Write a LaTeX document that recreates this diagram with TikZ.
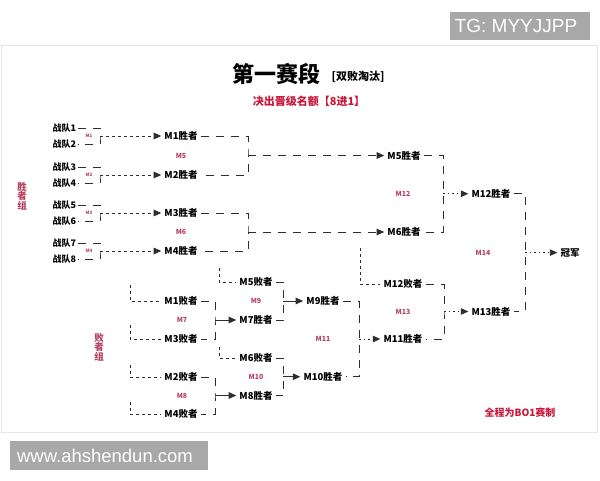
\documentclass[tikz,border=0pt]{standalone}
\usepackage{fontspec}
\setmainfont{Noto Sans CJK SC}
\newfontfamily\wmfont{Liberation Sans}
\usetikzlibrary{arrows.meta}
\definecolor{redA}{HTML}{C8193C}
\definecolor{redB}{HTML}{B5415F}
\definecolor{lnc}{HTML}{2E2E2E}
\definecolor{wmg}{HTML}{A8A8A8}
\begin{document}
\begin{tikzpicture}[x=1pt,y=-1pt,
  mnode/.style={font=\bfseries\fontsize{9.5}{10}\selectfont, inner sep=3pt},
  team/.style={font=\bfseries\fontsize{9}{9}\selectfont, inner sep=1.5pt, anchor=west},
  mlab/.style={text=redB, font=\bfseries\fontsize{7}{8}\selectfont, inner sep=0pt},
  tlab/.style={text=redB, font=\bfseries\fontsize{4.5}{5}\selectfont, inner sep=0pt},
  glab/.style={text=redB, font=\bfseries\fontsize{9.5}{9.5}\selectfont, align=center, inner sep=0pt},
  brk/.style={draw=lnc, line width=0.9pt, dash pattern=on 8pt off 7pt},
  drop/.style={draw=lnc, line width=0.8pt, dash pattern=on 3pt off 3pt},
  tip/.style={-{Triangle[width=6.5pt,length=7.5pt]}},
  arrA/.style={draw=lnc, line width=0.8pt, dash pattern=on 3pt off 3pt, tip},
  arrB/.style={draw=lnc, line width=0.9pt, dash pattern=on 8pt off 7pt, tip},
  arrC/.style={draw=lnc, line width=0.9pt, dash pattern=on 1.5pt off 3pt, tip},
  arrD/.style={draw=lnc, line width=0.9pt, tip},
]
\useasboundingbox (0,0) rectangle (600,480);
\fill[white] (0,0) rectangle (600,480);
\draw[draw=black!10, line width=0.8pt] (1,45) rectangle (597,432);

% watermarks
\fill[wmg] (450,12) rectangle (590,40);
\node[text=white, font=\wmfont\fontsize{19}{20}\selectfont, inner sep=0pt] (tg) at (516,26) {TG: MYYJJPP};
\fill[wmg] (10,441) rectangle (208,470);
\node[text=white, font=\wmfont\fontsize{18.5}{19}\selectfont, inner sep=0pt] (www) at (105,455.5) {www.ahshendun.com};

% titles
\node[font=\bfseries\fontsize{22}{24}\selectfont, inner sep=0pt] (title) at (276,74) {第一赛段};
\node[font=\bfseries\fontsize{11}{12}\selectfont, inner sep=0pt] (title2) at (358,77) {[双败淘汰]};
\node[text=redA, font=\bfseries\fontsize{11}{12}\selectfont, inner sep=0pt] (sub) at (309,101) {决出晋级名额【8进1】};
\node[text=redA, font=\bfseries\fontsize{10}{11}\selectfont, inner sep=0pt] (note) at (520,413) {全程为BO1赛制};

% group labels
\node[glab] (gw) at (22,196) {胜\\者\\组};
\node[glab] (gl) at (99,347) {败\\者\\组};

% teams
\node[team] (t1) at (51,128) {战队1};
\node[team] (t2) at (51,144) {战队2};
\node[team] (t3) at (51,167) {战队3};
\node[team] (t4) at (51,183) {战队4};
\node[team] (t5) at (51,205) {战队5};
\node[team] (t6) at (51,221) {战队6};
\node[team] (t7) at (51,243) {战队7};
\node[team] (t8) at (51,259) {战队8};

\coordinate (c1) at (100,136);
\coordinate (c2) at (100,175);
\coordinate (c3) at (100,213);
\coordinate (c4) at (100,251);
\node[tlab] (m1) at (89,136) {M1};
\node[tlab] (m2) at (89,175) {M2};
\node[tlab] (m3) at (89,213) {M3};
\node[tlab] (m4) at (89,251) {M4};

% first-round winners
\node[mnode] (w1) at (181,136) {M1胜者};
\node[mnode] (w2) at (181,175) {M2胜者};
\node[mnode] (w3) at (181,213) {M3胜者};
\node[mnode] (w4) at (181,251) {M4胜者};

\draw[brk] (t1.east) -| (c1) |- (t2.east);
\draw[brk] (t3.east) -| (c2) |- (t4.east);
\draw[brk] (t5.east) -| (c3) |- (t6.east);
\draw[brk] (t7.east) -| (c4) |- (t8.east);
\draw[arrA] (c1) -- (w1.west);
\draw[arrA] (c2) -- (w2.west);
\draw[arrA] (c3) -- (w3.west);
\draw[arrA] (c4) -- (w4.west);

% M5 / M6
\coordinate (c5) at (248,155.5);
\coordinate (c6) at (248,232);
\node[mlab] (m5) at (181,155.5) {M5};
\node[mlab] (m6) at (181,232) {M6};
\node[mnode] (w5) at (404,155.5) {M5胜者};
\node[mnode] (w6) at (404,232) {M6胜者};
\draw[brk] (w1.east) -| (c5) |- (w2.east);
\draw[brk] (w3.east) -| (c6) |- (w4.east);
\draw[arrB] (c5) -- (w5.west);
\draw[arrB] (c6) -- (w6.west);

% M12
\coordinate (c12) at (443,193.75);
\node[mlab] (m12) at (403,193.75) {M12};
\node[mnode] (w12) at (491,193.75) {M12胜者};
\draw[brk] (w5.east) -| (c12) |- (w6.east);
\draw[arrC] (c12) -- (w12.west);

% losers bracket
\node[mnode] (l1) at (181,301) {M1败者};
\node[mnode] (l3) at (181,339) {M3败者};
\node[mnode] (l2) at (181,377) {M2败者};
\node[mnode] (l4) at (181,414) {M4败者};
\coordinate (d1) at (130,285);
\coordinate (d3) at (130,325);
\coordinate (d2) at (130,365);
\coordinate (d4) at (130,402);
\draw[drop] (d1) |- (l1.west);
\draw[drop] (d3) |- (l3.west);
\draw[drop] (d2) |- (l2.west);
\draw[drop] (d4) |- (l4.west);

\coordinate (c7) at (215,320);
\coordinate (c8) at (215,395.5);
\node[mlab] (m7) at (182,320) {M7};
\node[mlab] (m8) at (182,395.5) {M8};
\node[mnode] (w7) at (256,320) {M7胜者};
\node[mnode] (w8) at (256,395.5) {M8胜者};
\draw[brk] (l1.east) -| (c7) |- (l3.east);
\draw[brk] (l2.east) -| (c8) |- (l4.east);
\draw[arrD] (c7) -- (w7.west);
\draw[arrD] (c8) -- (w8.west);

\node[mnode] (l5) at (256,282) {M5败者};
\node[mnode] (l6) at (256,358) {M6败者};
\coordinate (d5) at (219,268);
\coordinate (d6) at (219,347);
\draw[drop] (d5) |- (l5.west);
\draw[drop] (d6) |- (l6.west);

\coordinate (c9) at (283,301);
\coordinate (c10) at (283,376.75);
\node[mlab] (m9) at (256,301) {M9};
\node[mlab] (m10) at (256,376.75) {M10};
\node[mnode] (w9) at (323,301) {M9胜者};
\node[mnode] (w10) at (323,376.75) {M10胜者};
\draw[brk] (l5.east) -| (c9) |- (w7.east);
\draw[brk] (l6.east) -| (c10) |- (w8.east);
\draw[arrD] (c9) -- (w9.west);
\draw[arrD] (c10) -- (w10.west);

% M11
\coordinate (c11) at (359,339);
\node[mlab] (m11) at (323,339) {M11};
\node[mnode] (w11) at (403,339) {M11胜者};
\draw[brk] (w9.east) -| (c11) |- (w10.east);
\draw[arrC] (c11) -- (w11.west);

% M13
\node[mnode] (l12) at (403,284) {M12败者};
\coordinate (d12) at (360,248);
\draw[drop] (d12) |- (l12.west);
\coordinate (c13) at (444,311.5);
\node[mlab] (m13) at (403,311.5) {M13};
\node[mnode] (w13) at (491,311.5) {M13胜者};
\draw[brk] (l12.east) -| (c13) |- (w11.east);
\draw[arrC] (c13) -- (w13.west);

% M14
\coordinate (c14) at (525,252.6);
\node[mlab] (m14) at (483,252.6) {M14};
\node[mnode] (champ) at (570,252.6) {冠军};
\draw[brk] (w12.east) -| (c14) |- (w13.east);
\draw[arrC] (c14) -- (champ.west);
\end{tikzpicture}
\end{document}
